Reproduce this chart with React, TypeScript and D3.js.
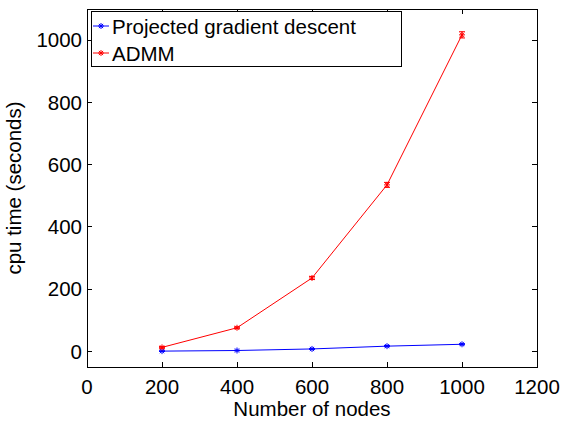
import React, {useEffect, useRef} from 'react'
import * as d3 from 'd3'

const nodes = [200, 400, 600, 800, 1000];
const pgdTime = [1, 3, 8, 17, 23];
const pgdErr = [1, 1, 1.5, 2, 2];
const admmTime = [13, 76, 236, 535, 1017];
const admmErr = [3, 3, 5, 8, 10];
const xTicks = [0, 200, 400, 600, 800, 1000, 1200];
const yTicks = [0, 200, 400, 600, 800, 1000];

const series = [
    {name: 'Projected gradient descent', color: '#0000ff', values: pgdTime, err: pgdErr},
    {name: 'ADMM', color: '#ff0000', values: admmTime, err: admmErr},
];

const width = 561;
const height = 423;
const margin = ({top: 9, right: 24, bottom: 56, left: 87});
const font = '"Liberation Sans", Arial, sans-serif';
const fontSize = 20.5;

export default function App() {
    const ref = useRef<SVGSVGElement>(null);

    useEffect(() => {
        const svg = d3.select(ref.current);
        svg.selectAll('*').remove();

        const x = d3.scaleLinear().domain([0, 1200]).range([margin.left, width - margin.right]);
        const y = d3.scaleLinear().domain([-50, 1100]).range([height - margin.bottom, margin.top]);
        const [x0, x1] = x.range();
        const [y0, y1] = y.range();

        // axes box
        svg.append('rect')
            .attr('x', x0).attr('y', y1)
            .attr('width', x1 - x0).attr('height', y0 - y1)
            .attr('fill', 'white').attr('stroke', 'black').attr('stroke-width', 1)
            .attr('shape-rendering', 'crispEdges');

        const ticks = svg.append('g').attr('stroke', 'black').attr('shape-rendering', 'crispEdges');
        xTicks.forEach(t => {
            ticks.append('line').attr('x1', x(t)).attr('x2', x(t)).attr('y1', y0).attr('y2', y0 - 5);
            ticks.append('line').attr('x1', x(t)).attr('x2', x(t)).attr('y1', y1).attr('y2', y1 + 5);
        });
        yTicks.forEach(t => {
            ticks.append('line').attr('x1', x0).attr('x2', x0 + 5).attr('y1', y(t)).attr('y2', y(t));
            ticks.append('line').attr('x1', x1).attr('x2', x1 - 5).attr('y1', y(t)).attr('y2', y(t));
        });

        svg.append('g')
            .attr('font-family', font).attr('font-size', fontSize).attr('text-anchor', 'middle')
            .selectAll('text').data(xTicks).join('text')
            .attr('x', d => x(d)).attr('y', 394)
            .text(d => d);

        svg.append('g')
            .attr('font-family', font).attr('font-size', fontSize).attr('text-anchor', 'end')
            .selectAll('text').data(yTicks).join('text')
            .attr('x', x0 - 5).attr('y', d => y(d) + 7.3)
            .text(d => d);

        svg.append('text')
            .attr('font-family', font).attr('font-size', fontSize).attr('text-anchor', 'middle')
            .attr('x', (x0 + x1) / 2).attr('y', 416)
            .text('Number of nodes');

        svg.append('text')
            .attr('font-family', font).attr('font-size', fontSize).attr('text-anchor', 'middle')
            .attr('transform', `translate(21,${(y0 + y1) / 2}) rotate(-90)`)
            .text('cpu time (seconds)');

        const line = d3.line<number>()
            .x((d, i) => x(nodes[i]))
            .y(d => y(d));

        const star = (g, cx, cy, color) => {
            const r = 3;
            g.append('path')
                .attr('d', `M${cx - r},${cy}H${cx + r}M${cx},${cy - r}V${cy + r}` +
                    `M${cx - r * 0.7},${cy - r * 0.7}L${cx + r * 0.7},${cy + r * 0.7}` +
                    `M${cx - r * 0.7},${cy + r * 0.7}L${cx + r * 0.7},${cy - r * 0.7}`)
                .attr('stroke', color).attr('stroke-width', 1).attr('fill', 'none');
        };

        series.forEach(s => {
            const g = svg.append('g');
            g.append('path')
                .attr('d', line(s.values))
                .attr('fill', 'none').attr('stroke', s.color).attr('stroke-width', 1);
            s.values.forEach((v, i) => {
                const cx = x(nodes[i]);
                const lo = y(v - s.err[i]);
                const hi = y(v + s.err[i]);
                g.append('path')
                    .attr('d', `M${cx},${lo}V${hi}M${cx - 3},${lo}H${cx + 3}M${cx - 3},${hi}H${cx + 3}`)
                    .attr('stroke', s.color).attr('stroke-width', 1).attr('fill', 'none');
                star(g, cx, y(v), s.color);
            });
        });

        // legend
        const lg = svg.append('g');
        lg.append('rect')
            .attr('x', 91).attr('y', 11).attr('width', 310).attr('height', 55)
            .attr('fill', 'white').attr('stroke', 'black').attr('stroke-width', 1)
            .attr('shape-rendering', 'crispEdges');
        series.forEach((s, i) => {
            const cy = 26 + i * 27;
            lg.append('line')
                .attr('x1', 93).attr('x2', 109).attr('y1', cy).attr('y2', cy)
                .attr('stroke', s.color).attr('stroke-width', 1);
            star(lg, 101, cy, s.color);
            lg.append('text')
                .attr('font-family', font).attr('font-size', fontSize)
                .attr('x', 112).attr('y', cy + 8)
                .text(s.name);
        });
    }, []);

    return <svg ref={ref} width={width} height={height}
                style={{position: 'absolute', left: 0, top: 0, display: 'block'}}/>;
}
